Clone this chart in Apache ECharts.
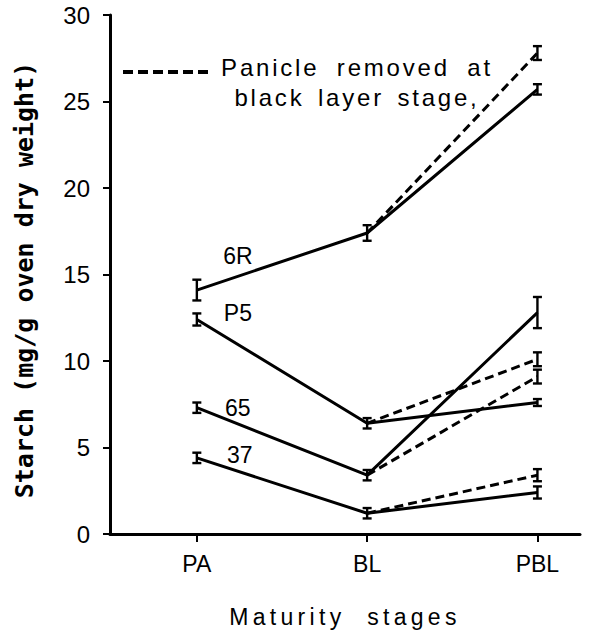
<!DOCTYPE html>
<html>
<head>
<meta charset="utf-8">
<script src="https://cdn.jsdelivr.net/npm/echarts@6/dist/echarts.min.js"></script>
<style>
  html, body { margin: 0; padding: 0; background: #fff; }
  #chart { width: 593px; height: 633px; }
</style>
</head>
<body>
<div id="chart"></div>
<script>
// ---- data ----
const stages = ['PA', 'BL', 'PBL'];
const stageX = [1, 2, 3];
const cultivars = ['6R', 'P5', '65', '37'];

// intact plants (solid lines)
const intact6R = [14.1, 17.4, 25.7];
const intactP5 = [12.4, 6.4, 7.6];
const intact65 = [7.3, 3.4, 12.8];
const intact37 = [4.4, 1.2, 2.4];
const errIntact6R = [0.6, 0.45, 0.3];
const errIntactP5 = [0.35, 0.3, 0.2];
const errIntact65 = [0.3, 0.3, 0.9];
const errIntact37 = [0.3, 0.3, 0.35];

// panicle removed at black layer stage (dashed lines, BL -> PBL)
const removed6R = [null, 17.4, 27.8];
const removedP5 = [null, 6.4, 10.1];
const removed65 = [null, 3.4, 9.1];
const removed37 = [null, 1.2, 3.4];
const errRemoved6R = [null, null, 0.4];
const errRemovedP5 = [null, null, 0.4];
const errRemoved65 = [null, null, 0.4];
const errRemoved37 = [null, null, 0.35];

const yTicks = [0, 5, 10, 15, 20, 25, 30];
const legendText = 'Panicle removed at\nblack layer stage,';
const xTitle = 'Maturity stages';
const yTitle = 'Starch (mg/g oven dry weight)';

// ---- build ----
const intact = [intact6R, intactP5, intact65, intact37];
const errIntact = [errIntact6R, errIntactP5, errIntact65, errIntact37];
const removed = [removed6R, removedP5, removed65, removed37];
const errRemoved = [errRemoved6R, errRemovedP5, errRemoved65, errRemoved37];

const toPairs = arr => stageX.map((x, i) => arr[i] == null ? null : [x, arr[i]]).filter(d => d);
const toErr = (vals, errs) => stageX.map((x, i) => (vals[i] == null || errs[i] == null) ? null : [x, vals[i], errs[i]]).filter(d => d);

const series = [];
intact.forEach((vals, k) => {
  series.push({
    name: cultivars[k], type: 'line', data: toPairs(vals), symbol: 'none',
    lineStyle: { color: '#000', width: 3, type: 'solid' }, z: 3
  });
});
removed.forEach((vals, k) => {
  series.push({
    name: cultivars[k] + ' removed', type: 'line', data: toPairs(vals), symbol: 'none',
    lineStyle: { color: '#000', width: 3, type: [9, 5] }, z: 3
  });
});
function renderErr(params, api) {
  const x = api.value(0), y = api.value(1), e = api.value(2);
  const t = api.coord([x, y + e]), b = api.coord([x, y - e]);
  const w = 4.5;
  const st = { stroke: '#000', lineWidth: 2.4 };
  return { type: 'group', children: [
    { type: 'line', shape: { x1: t[0], y1: t[1], x2: b[0], y2: b[1] }, style: st },
    { type: 'line', shape: { x1: t[0] - w, y1: t[1], x2: t[0] + w, y2: t[1] }, style: st },
    { type: 'line', shape: { x1: b[0] - w, y1: b[1], x2: b[0] + w, y2: b[1] }, style: st }
  ]};
}
const errData = [];
intact.forEach((v, k) => errData.push(...toErr(v, errIntact[k])));
removed.forEach((v, k) => errData.push(...toErr(v, errRemoved[k])));
series.push({ name: 'error', type: 'custom', renderItem: renderErr, data: errData, z: 4 });

const labelOffsets = [[41, -34], [41, -6], [41, 0], [43, -3]];
const labelStyle = { show: true, position: 'inside', color: '#000', fontSize: 23, textBorderWidth: 0,
  fontFamily: 'Liberation Sans, Arial, sans-serif', align: 'center', verticalAlign: 'middle' };
series.push({
  name: 'labels', type: 'scatter', symbolSize: 0, z: 5, silent: true,
  itemStyle: { color: '#000', opacity: 1 },
  data: cultivars.map((c, k) => ({
    value: [stageX[0], intact[k][0]],
    label: Object.assign({}, labelStyle, { formatter: c, offset: labelOffsets[k] })
  })),
  label: labelStyle
});

const chart = echarts.init(document.getElementById('chart'), null, { renderer: 'svg' });
chart.setOption({
  animation: false,
  backgroundColor: '#fff',
  grid: { left: 110, right: 13, top: 15, bottom: 95, containLabel: false },
  xAxis: {
    type: 'value', min: 0.49, max: 3.25,
    axisLine: { show: true, onZero: false, lineStyle: { color: '#000', width: 3 } },
    axisTick: { show: true, customValues: stageX, length: 8, inside: false, lineStyle: { color: '#000', width: 2 } },
    axisLabel: { customValues: stageX, formatter: v => stages[stageX.indexOf(Math.round(v))] || '',
      color: '#000', fontSize: 23, fontFamily: 'Liberation Sans, Arial, sans-serif', margin: 18 },
    splitLine: { show: false },
    name: xTitle, nameLocation: 'middle', nameGap: 71,
    nameTextStyle: { color: '#000', fontSize: 23, fontFamily: 'Liberation Sans, Arial, sans-serif' }
  },
  yAxis: {
    type: 'value', min: 0, max: 30, interval: 5,
    axisLine: { show: true, lineStyle: { color: '#000', width: 3 } },
    axisTick: { show: true, length: 7, inside: false, lineStyle: { color: '#000', width: 2 } },
    axisLabel: { color: '#000', fontSize: 24, fontFamily: 'Liberation Sans, Arial, sans-serif', margin: 20 },
    splitLine: { show: false },
    name: yTitle, nameLocation: 'middle', nameGap: 73,
    nameTextStyle: { color: '#000', fontSize: 25, fontWeight: 'bold', fontFamily: 'DejaVu Sans Mono, monospace', padding: [0, 11, 0, 0] }
  },
  graphic: [
    { type: 'line', shape: { x1: 123, y1: 72, x2: 208, y2: 72 }, style: { stroke: '#000', lineWidth: 4, lineDash: [10, 5] } },
    { type: 'text', x: 357, y: 52, style: { text: legendText, fill: '#000', fontSize: 24, lineHeight: 30,
      fontFamily: 'Liberation Sans, Arial, sans-serif', align: 'center', verticalAlign: 'top' } }
  ],
  series: series
});

function applySpacing() {
  const spacing = {
    'Maturity stages': ['4.3px', '11px'],
    'Panicle removed at': ['2.8px', '8px'],
    'black layer stage,': ['2.8px', '4px']
  };
  document.querySelectorAll('#chart svg text').forEach(t => {
    const s = spacing[t.textContent.trim()];
    if (s) { t.style.letterSpacing = s[0]; t.style.wordSpacing = s[1]; }
  });
}
chart.on('finished', applySpacing);
applySpacing();
setTimeout(applySpacing, 50);
</script>
</body>
</html>
